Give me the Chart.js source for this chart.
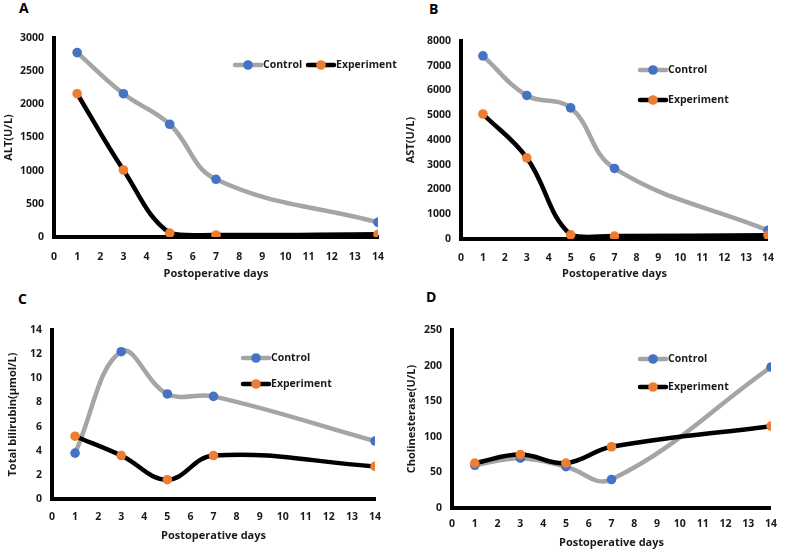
<!DOCTYPE html>
<html>
<head>
<meta charset="utf-8">
<script src="https://cdn.jsdelivr.net/npm/chart.js@4.4.1/dist/chart.umd.min.js"></script>
<style>
  html, body { margin: 0; padding: 0; background: #fff; }
  body { width: 787px; height: 550px; position: relative; overflow: hidden; font-family: "Open Sans", sans-serif; }
  canvas { position: absolute; }
  .tag { position: absolute; font: bold 14px "Open Sans", sans-serif; color: #000; }
</style>
</head>
<body>
<div class="tag" style="left:19px; top:-2px;">A</div>
<div class="tag" style="left:429px; top:-1px;">B</div>
<div class="tag" style="left:18px; top:289px;">C</div>
<div class="tag" style="left:426px; top:287px;">D</div>

<canvas id="chartB" width="397" height="280" style="left:390px; top:0px; width:397px; height:280px;"></canvas>
<canvas id="chartA" width="400" height="280" style="left:0px; top:0px; width:400px; height:280px;"></canvas>
<canvas id="chartD" width="397" height="270" style="left:390px; top:280px; width:397px; height:270px;"></canvas>
<canvas id="chartC" width="400" height="270" style="left:0px; top:280px; width:400px; height:270px;"></canvas>

<script>
// ---- data ----
const days = [1, 3, 5, 7, 14];
const seriesNames = ["Control", "Experiment"];

const altControl = [2780, 2160, 1700, 870, 220];
const altExperiment = [2160, 1010, 60, 30, 40];

const astControl = [7400, 5800, 5300, 2850, 350];
const astExperiment = [5050, 3280, 170, 120, 150];

const tbilControl = [3.8, 12.2, 8.7, 8.5, 4.8];
const tbilExperiment = [5.2, 3.6, 1.6, 3.6, 2.7];

const cheControl = [60, 70, 58, 40, 198];
const cheExperiment = [63, 75, 63, 86, 115];

const xAxisTitle = "Postoperative days";

// ---- style ----
const GRAY = "#a5a5a5";
const BLACK = "#000000";
const BLUE = "#4472c4";
const ORANGE = "#ed7d31";
const TXT = "#1a1a1a";
const FONT = "Open Sans";

// legend drawn inside the plot, line + marker like Excel
const inlineLegend = {
    id: "inlineLegend",
    afterDraw(chart, args, opts) {
        const ctx = chart.ctx;
        ctx.save();
        chart.data.datasets.forEach((ds, i) => {
            const p = opts.items[i];
            ctx.strokeStyle = ds.borderColor;
            ctx.lineWidth = ds.borderWidth;
            ctx.lineCap = "round";
            ctx.beginPath();
            ctx.moveTo(p.x - 13, p.y);
            ctx.lineTo(p.x + 13, p.y);
            ctx.stroke();
            ctx.fillStyle = ds.pointBackgroundColor;
            ctx.beginPath();
            ctx.arc(p.x, p.y, ds.pointRadius, 0, Math.PI * 2);
            ctx.fill();
            ctx.fillStyle = TXT;
            ctx.font = "bold 10.5px " + FONT;
            ctx.textBaseline = "middle";
            ctx.textAlign = "left";
            ctx.fillText(ds.label, p.x + 15, p.y + 0.5);
        });
        ctx.restore();
    }
};

function toPoints(values) {
    return values.map((v, i) => ({ x: days[i], y: v }));
}

function makeChart(id, cfg) {
    return new Chart(document.getElementById(id), {
        type: "line",
        data: {
            datasets: [
                {
                    label: seriesNames[0],
                    data: toPoints(cfg.control),
                    borderColor: GRAY,
                    borderWidth: 4.5,
                    pointBackgroundColor: BLUE,
                    pointBorderWidth: 0,
                    pointRadius: 4.8,
                    tension: 0.4,
                    order: 1
                },
                {
                    label: seriesNames[1],
                    data: toPoints(cfg.experiment),
                    borderColor: BLACK,
                    borderWidth: 4.5,
                    pointBackgroundColor: ORANGE,
                    pointBorderWidth: 0,
                    pointRadius: 4.8,
                    tension: 0.4,
                    order: 0
                }
            ]
        },
        options: {
            responsive: false,
            animation: false,
            layout: { padding: { top: cfg.top, right: cfg.right, left: 0, bottom: 0 } },
            plugins: {
                legend: { display: false },
                tooltip: { enabled: false },
                inlineLegend: { items: cfg.legend }
            },
            scales: {
                x: {
                    type: "linear",
                    min: 0,
                    max: 14,
                    afterFit: s => { s.height = cfg.xh; },
                    grid: { display: false, drawTicks: false },
                    border: { display: true, color: BLACK, width: 4 },
                    ticks: {
                        stepSize: 1,
                        padding: cfg.xpad,
                        color: TXT,
                        font: { family: FONT, size: 10.5, weight: "bold" }
                    },
                    title: {
                        display: true,
                        text: xAxisTitle,
                        color: TXT,
                        padding: { top: 0, bottom: cfg.xtpad },
                        font: { family: FONT, size: 11, weight: "bold" }
                    }
                },
                y: {
                    min: 0,
                    max: cfg.ymax,
                    afterFit: s => { s.width = cfg.yw; },
                    grid: { display: false, drawTicks: false },
                    border: { display: true, color: BLACK, width: 4 },
                    ticks: {
                        stepSize: cfg.ystep,
                        padding: 10,
                        color: TXT,
                        format: { useGrouping: false },
                        font: { family: FONT, size: 10.5, weight: "bold" }
                    },
                    title: {
                        display: true,
                        text: cfg.ytitle,
                        color: TXT,
                        padding: { top: cfg.ytpad, bottom: 0 },
                        font: { family: FONT, size: 11, weight: "bold" }
                    }
                }
            }
        },
        plugins: [inlineLegend]
    });
}

makeChart("chartA", {
    control: altControl, experiment: altExperiment,
    ymax: 3000, ystep: 500, ytitle: "ALT(U/L)",
    top: 38, right: 22, yw: 54, xh: 43, xpad: 14, xtpad: 0, ytpad: 2,
    legend: [{ x: 248, y: 65 }, { x: 321, y: 65 }]
});

makeChart("chartB", {
    control: astControl, experiment: astExperiment,
    ymax: 8000, ystep: 1000, ytitle: "AST(U/L)",
    top: 41, right: 9, yw: 71, xh: 41, xpad: 13, xtpad: 0, ytpad: 14,
    legend: [{ x: 263, y: 70 }, { x: 263, y: 100 }]
});

makeChart("chartC", {
    control: tbilControl, experiment: tbilExperiment,
    ymax: 14, ystep: 2, ytitle: "Total bilirubin(\u00b5mol/L)",
    top: 50, right: 25, yw: 52, xh: 51, xpad: 12, xtpad: 8, ytpad: 6,
    legend: [{ x: 256, y: 78 }, { x: 256, y: 104 }]
});

makeChart("chartD", {
    control: cheControl, experiment: cheExperiment,
    ymax: 250, ystep: 50, ytitle: "Cholinesterase(U/L)",
    top: 50, right: 15, yw: 62, xh: 42, xpad: 10, xtpad: 1, ytpad: 15,
    legend: [{ x: 263, y: 79 }, { x: 263, y: 107 }]
});
</script>
</body>
</html>
